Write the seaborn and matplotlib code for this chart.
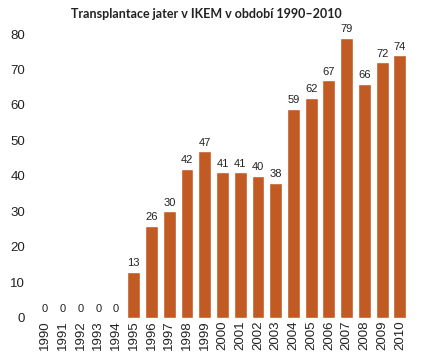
import matplotlib
matplotlib.use("Agg")
import matplotlib.pyplot as plt
import seaborn as sns
import pandas as pd

years = [str(y) for y in range(1990, 2011)]
counts = [0, 0, 0, 0, 0, 13, 26, 30, 42, 47, 41, 41, 40, 38, 59, 62, 67, 79, 66, 72, 74]
title = "Transplantace jater v IKEM v období 1990–2010"
yticks = [0, 10, 20, 30, 40, 50, 60, 70, 80]

sns.set_theme(style="white")
plt.rcParams['font.family'] = ['Liberation Sans', 'DejaVu Sans']

df = pd.DataFrame({"year": years, "count": counts})

fig = plt.figure(figsize=(4.21, 3.62), dpi=100)
ax = fig.add_axes([0.086, 0.122, 0.885, 0.784])
sns.barplot(data=df, x="year", y="count", color="#C25A24", saturation=1, width=0.73, ax=ax)
for i, v in enumerate(counts):
    ax.text(i, v + 1.0, str(v), ha="center", va="bottom", fontsize=8, color="#222222", clip_on=False)

ax.set_ylim(0, 80)
ax.set_yticks(yticks)
ax.set_xlim(-0.5, len(years) - 0.5)
ax.set_xlabel("")
ax.set_ylabel("")
for s in ax.spines.values():
    s.set_visible(False)
ax.tick_params(axis="x", rotation=90, labelsize=9.5, pad=2, length=0, colors="#222222")
ax.tick_params(axis="y", labelsize=9.5, pad=8, length=0, colors="#222222")
fig.text(0.490, 0.962, title, ha="center", va="center", fontsize=9, fontweight="bold", family=["Lato", "DejaVu Sans"], color="#222222")
fig.savefig("out.png", dpi=100)
